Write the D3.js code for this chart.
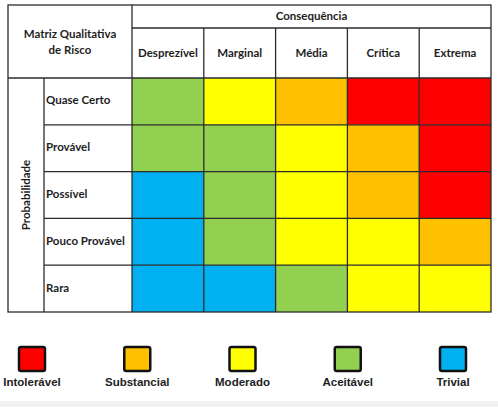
<!DOCTYPE html>
<html>
<head>
<meta charset="utf-8">
<script src="https://cdn.jsdelivr.net/npm/d3@7"></script>
<style>
  body { margin: 0; background: #fff; }
  svg { display: block; }
</style>
</head>
<body>
<div class="risk_matrix"></div>
<script>
// consequences (columns) and probabilities (rows)
const consequences = ['Desprezível', 'Marginal', 'Média', 'Crítica', 'Extrema'];
const probabilities = ['Quase Certo', 'Provável', 'Possível', 'Pouco Provável', 'Rara'];

// risk levels, left to right in the legend
const levels = ['Intolerável', 'Substancial', 'Moderado', 'Aceitável', 'Trivial'];
const levelColors = ['#ff0000', '#ffc000', '#ffff00', '#92d050', '#00b0f0'];

const rowQuaseCerto    = ['Aceitável', 'Moderado', 'Substancial', 'Intolerável', 'Intolerável'];
const rowProvavel      = ['Aceitável', 'Aceitável', 'Moderado', 'Substancial', 'Intolerável'];
const rowPossivel      = ['Trivial', 'Aceitável', 'Moderado', 'Substancial', 'Intolerável'];
const rowPoucoProvavel = ['Trivial', 'Aceitável', 'Moderado', 'Moderado', 'Substancial'];
const rowRara          = ['Trivial', 'Trivial', 'Aceitável', 'Moderado', 'Moderado'];

const matrix = [rowQuaseCerto, rowProvavel, rowPossivel, rowPoucoProvavel, rowRara];

const width = 498, height = 407;
const box = {left: 8, top: 5, right: 491, bottom: 312};
const labelCol = 44, gridLeft = 132;
const headRow1 = 28, gridTop = 78;
const lineColor = '#2b2b2b';
const hFont = 'Lato, "Open Sans", sans-serif';

const cells = [];
matrix.forEach((row, i) => row.forEach((lvl, j) => {
    cells.push({prob: probabilities[i], cons: consequences[j], level: lvl});
}));

const xScale = d3.scaleBand()
                 .domain(consequences)
                 .range([gridLeft, box.right]);
const yScale = d3.scaleBand()
                 .domain(probabilities)
                 .range([gridTop, box.bottom]);
const colorScale = d3.scaleOrdinal()
                     .domain(levels)
                     .range(levelColors);

const svg = d3.select('.risk_matrix')
              .append('svg')
              .attr('width', width)
              .attr('height', height);

// faint band at the very bottom of the image
svg.append('rect')
   .attr('x', 0).attr('y', 401)
   .attr('width', width).attr('height', height - 401)
   .attr('fill', '#f1f1f1');

// colored cells
svg.selectAll('rect.cell')
   .data(cells)
   .enter()
   .append('rect')
   .attr('class', 'cell')
   .attr('x', d => xScale(d.cons))
   .attr('y', d => yScale(d.prob))
   .attr('width', xScale.bandwidth())
   .attr('height', yScale.bandwidth())
   .attr('fill', d => colorScale(d.level));

// grid lines
const lines = svg.append('g')
                 .attr('stroke', lineColor)
                 .attr('stroke-width', 1.3)
                 .attr('fill', 'none');

lines.append('rect')
     .attr('x', box.left).attr('y', box.top)
     .attr('width', box.right - box.left).attr('height', box.bottom - box.top);

// header separators
lines.append('line').attr('x1', gridLeft).attr('x2', gridLeft).attr('y1', box.top).attr('y2', box.bottom);
lines.append('line').attr('x1', gridLeft).attr('x2', box.right).attr('y1', headRow1).attr('y2', headRow1);
lines.append('line').attr('x1', box.left).attr('x2', box.right).attr('y1', gridTop).attr('y2', gridTop);
lines.append('line').attr('x1', labelCol).attr('x2', labelCol).attr('y1', gridTop).attr('y2', box.bottom);

consequences.slice(1).forEach(c => {
    lines.append('line')
         .attr('x1', xScale(c)).attr('x2', xScale(c))
         .attr('y1', headRow1).attr('y2', box.bottom);
});
probabilities.slice(1).forEach(p => {
    lines.append('line')
         .attr('x1', labelCol).attr('x2', box.right)
         .attr('y1', yScale(p)).attr('y2', yScale(p));
});

// texts
const txt = svg.append('g')
               .attr('font-family', hFont)
               .attr('font-weight', 700)
               .attr('font-size', 11.5)
               .attr('fill', '#1e1e1e');

txt.append('text')
   .attr('x', (box.left + gridLeft) / 2).attr('y', 35)
   .attr('text-anchor', 'middle').attr('dominant-baseline', 'middle')
   .text('Matriz Qualitativa');
txt.append('text')
   .attr('x', (box.left + gridLeft) / 2).attr('y', 51)
   .attr('text-anchor', 'middle').attr('dominant-baseline', 'middle')
   .text('de Risco');

txt.append('text')
   .attr('x', (gridLeft + box.right) / 2).attr('y', 17)
   .attr('text-anchor', 'middle').attr('dominant-baseline', 'middle')
   .text('Consequência');

txt.selectAll('text.col')
   .data(consequences)
   .enter()
   .append('text')
   .attr('class', 'col')
   .attr('x', d => xScale(d) + xScale.bandwidth() / 2)
   .attr('y', 54)
   .attr('text-anchor', 'middle').attr('dominant-baseline', 'middle')
   .text(d => d);

txt.selectAll('text.row')
   .data(probabilities)
   .enter()
   .append('text')
   .attr('class', 'row')
   .attr('x', labelCol + 2)
   .attr('y', d => yScale(d) + yScale.bandwidth() / 2)
   .attr('dominant-baseline', 'middle')
   .text(d => d);

txt.append('text')
   .attr('transform', `translate(${(box.left + labelCol) / 2 + 1},${(gridTop + box.bottom) / 2}) rotate(-90)`)
   .attr('text-anchor', 'middle').attr('dominant-baseline', 'middle')
   .text('Probabilidade');

// legend
const legendX = d3.scalePoint()
                  .domain(levels)
                  .range([32, 453]);

const legend = svg.selectAll('g.legend')
                  .data(levels)
                  .enter()
                  .append('g')
                  .attr('class', 'legend')
                  .attr('transform', d => `translate(${legendX(d)},0)`);

legend.append('rect')
      .attr('x', -13).attr('y', 347)
      .attr('width', 26).attr('height', 24)
      .attr('rx', 2)
      .attr('fill', d => colorScale(d))
      .attr('stroke', '#111')
      .attr('stroke-width', 2.5);

legend.append('text')
      .attr('y', 383)
      .attr('text-anchor', 'middle').attr('dominant-baseline', 'middle')
      .attr('font-family', '"Liberation Sans", Arial, sans-serif')
      .attr('font-weight', 700)
      .attr('font-size', 11.5)
      .attr('fill', '#222')
      .text(d => d);
</script>
</body>
</html>
